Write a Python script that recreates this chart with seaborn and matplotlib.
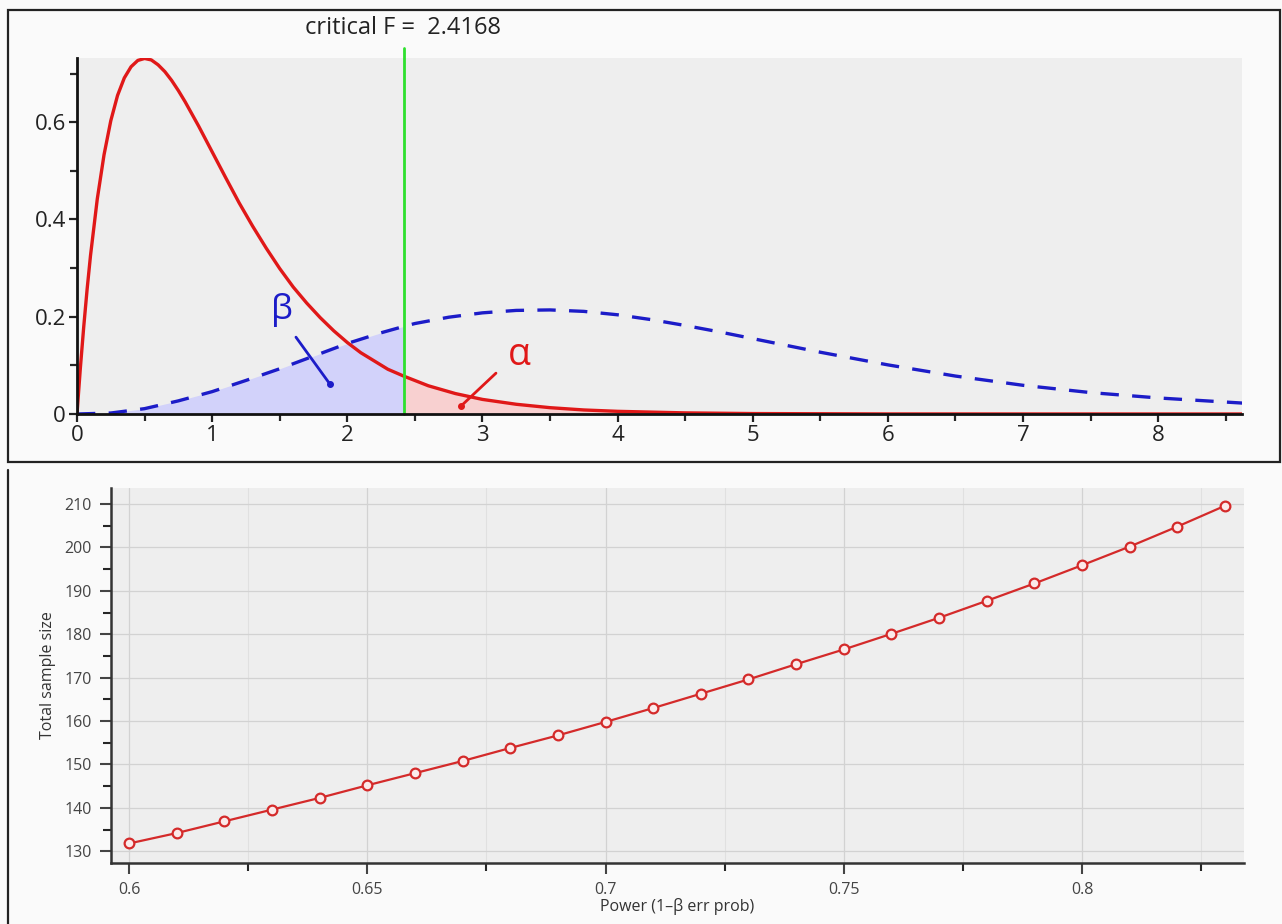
import matplotlib
matplotlib.use("Agg")
import matplotlib.pyplot as plt
from matplotlib.lines import Line2D
from matplotlib.patches import Rectangle
from matplotlib.ticker import MultipleLocator, FuncFormatter
import seaborn as sns

# --- data ---
critical_f = 2.4168

# H0 (central F) density, red curve
h0_x = [0, 0.0125, 0.025, 0.05, 0.075, 0.1, 0.15, 0.2, 0.25, 0.3, 0.35, 0.4, 0.45,
        0.5, 0.55, 0.6, 0.65, 0.7, 0.75, 0.8, 0.9, 1.0, 1.1, 1.2, 1.3, 1.4, 1.5,
        1.6, 1.7, 1.8, 1.9, 2.0, 2.1, 2.2, 2.3, 2.4168, 2.6, 2.8, 3.0, 3.25, 3.5,
        3.75, 4.0, 4.5, 5.0, 6.0, 8.65]
h0_density = [0, 0.048, 0.095, 0.180, 0.257, 0.326, 0.442, 0.533, 0.603, 0.655,
              0.691, 0.714, 0.727, 0.731, 0.728, 0.718, 0.704, 0.686, 0.665,
              0.642, 0.592, 0.539, 0.486, 0.434, 0.386, 0.341, 0.299, 0.261,
              0.228, 0.198, 0.171, 0.147, 0.126, 0.109, 0.092, 0.078, 0.058,
              0.042, 0.030, 0.020, 0.013, 0.0083, 0.0055, 0.0023, 0.0009,
              0.0001, 0]

# H1 (noncentral F) density, blue dashed curve
h1_x = [0, 0.25, 0.5, 0.75, 1.0, 1.25, 1.5, 1.75, 2.0, 2.25, 2.4168, 2.5, 2.75,
        3.0, 3.25, 3.5, 3.75, 4.0, 4.25, 4.5, 4.75, 5.0, 5.25, 5.5, 5.75, 6.0,
        6.5, 7.0, 7.5, 8.0, 8.65]
h1_density = [0, 0.002, 0.011, 0.027, 0.046, 0.069, 0.093, 0.119, 0.145, 0.167,
              0.180, 0.186, 0.199, 0.208, 0.213, 0.214, 0.211, 0.204, 0.194,
              0.182, 0.169, 0.155, 0.141, 0.127, 0.114, 0.101, 0.078, 0.059,
              0.044, 0.033, 0.022]

# power vs total sample size
power = [0.60, 0.61, 0.62, 0.63, 0.64, 0.65, 0.66, 0.67, 0.68, 0.69, 0.70, 0.71,
         0.72, 0.73, 0.74, 0.75, 0.76, 0.77, 0.78, 0.79, 0.80, 0.81, 0.82, 0.83]
total_n = [131.8, 134.2, 136.9, 139.6, 142.3, 145.2, 148.0, 150.8, 153.8, 156.7,
           159.8, 163.0, 166.3, 169.6, 173.1, 176.5, 180.1, 183.8, 187.7, 191.7,
           195.9, 200.2, 204.8, 209.6]

RED = "#e01818"
BLUE = "#1c1cc8"
GREEN = "#2ee02e"
AX_BG = "#eeeeee"

sns.set_style("white")
plt.rcParams["font.family"] = ["Open Sans", "DejaVu Sans"]

fig = plt.figure(figsize=(12.82, 9.24), dpi=100, facecolor="#fafafa")

# ---------------- top panel: distributions ----------------
ax = fig.add_axes([77 / 1282, 1 - 414 / 924, 1165 / 1282, 356 / 924])
ax.set_facecolor(AX_BG)

# shaded beta / alpha areas
bx = [x for x in h1_x if x <= critical_f]
by = h1_density[:len(bx)]
ax.fill_between(bx, 0, by, color="#d2d2fa", linewidth=0)
ax_ = [x for x in h0_x if x >= critical_f]
ay = h0_density[len(h0_x) - len(ax_):]
ax.fill_between(ax_, 0, ay, color="#f8d0d0", linewidth=0)

sns.lineplot(x=h1_x, y=h1_density, ax=ax, color=BLUE, linewidth=2.4)
ax.lines[-1].set_dashes([5.5, 4])
sns.lineplot(x=h0_x, y=h0_density, ax=ax, color=RED, linewidth=2.4)

ax.axvline(critical_f, ymin=0, ymax=1.028, color=GREEN, linewidth=2, clip_on=False)

ax.set_xlim(0, 8.62)
ax.set_ylim(0, 0.732)
ax.xaxis.set_major_locator(MultipleLocator(1))
ax.xaxis.set_minor_locator(MultipleLocator(0.5))
ax.yaxis.set_major_locator(MultipleLocator(0.2))
ax.yaxis.set_minor_locator(MultipleLocator(0.1))
fmt = FuncFormatter(lambda v, p: f"{v:g}")
ax.xaxis.set_major_formatter(fmt)
ax.yaxis.set_major_formatter(fmt)
ax.tick_params(axis="both", which="major", direction="out", length=6, width=1.6,
               labelsize=16, colors="#222222", pad=2)
ax.tick_params(axis="both", which="minor", direction="out", length=5, width=1.6)
ax.tick_params(axis="x", which="both", bottom=True)
ax.tick_params(axis="y", which="both", left=True)
for s in ["top", "right"]:
    ax.spines[s].set_visible(False)
for s in ["left", "bottom"]:
    ax.spines[s].set_color("#111111")
    ax.spines[s].set_linewidth(2)
ax.set_xlabel("")
ax.set_ylabel("")

# beta / alpha labels with leaders
ax.text(1.52, 0.214, "β", color=BLUE, fontsize=25, ha="center", va="center")
ax.plot([1.62, 1.87], [0.158, 0.062], color=BLUE, linewidth=2)
ax.plot([1.87], [0.062], "o", color=BLUE, markersize=4)
ax.text(3.27, 0.122, "α", color=RED, fontsize=27, ha="center", va="center")
ax.plot([3.10, 2.84], [0.084, 0.016], color=RED, linewidth=2)
ax.plot([2.84], [0.016], "o", color=RED, markersize=4)

fig.text(403 / 1282, 1 - 28 / 924, f"critical F =  {critical_f}", fontsize=17,
         ha="center", va="center", color="#222222")

fig.add_artist(Rectangle((8 / 1282, 1 - 462 / 924), 1272 / 1282, 452 / 924,
                         transform=fig.transFigure, fill=False,
                         edgecolor="#222222", linewidth=1.6))

# ---------------- bottom panel: power curve ----------------
ax2 = fig.add_axes([111 / 1282, 1 - 863 / 924, 1133 / 1282, 375 / 924])
ax2.set_facecolor(AX_BG)
sns.lineplot(x=power, y=total_n, ax=ax2, color="#d42a2a", linewidth=1.6,
             marker="o", markersize=7, markerfacecolor="#fbeaea",
             markeredgecolor="#d42a2a", markeredgewidth=1.6)

ax2.set_xlim(0.5962, 0.834)
ax2.set_ylim(127.3, 213.7)
ax2.xaxis.set_major_locator(MultipleLocator(0.05))
ax2.xaxis.set_minor_locator(MultipleLocator(0.025))
ax2.yaxis.set_major_locator(MultipleLocator(10))
ax2.yaxis.set_minor_locator(MultipleLocator(5))
ax2.xaxis.set_major_formatter(fmt)
ax2.grid(True, which="major", axis="both", color="#d2d2d2", linewidth=0.9)
ax2.grid(True, which="minor", axis="x", color="#e0e0e0", linewidth=0.8)
ax2.set_axisbelow(True)
ax2.tick_params(axis="both", which="major", direction="out", length=8, width=1.5,
                labelsize=11.5, colors="#444444", pad=6)
ax2.tick_params(axis="both", which="minor", direction="out", length=6, width=1.5)
ax2.tick_params(axis="x", which="both", bottom=True)
ax2.tick_params(axis="y", which="both", left=True)
for s in ["top", "right"]:
    ax2.spines[s].set_visible(False)
for s in ["left", "bottom"]:
    ax2.spines[s].set_color("#333333")
    ax2.spines[s].set_linewidth(1.8)
ax2.set_xlabel("Power (1–β err prob)", fontsize=11.5, color="#333333", labelpad=0)
ax2.set_ylabel("Total sample size", fontsize=11.5, color="#333333", labelpad=6)

fig.add_artist(Line2D([8 / 1282, 8 / 1282], [0, 1 - 470 / 924],
                      transform=fig.transFigure, color="#222222", linewidth=1.6))

fig.savefig("out.png", dpi=100, facecolor=fig.get_facecolor())
